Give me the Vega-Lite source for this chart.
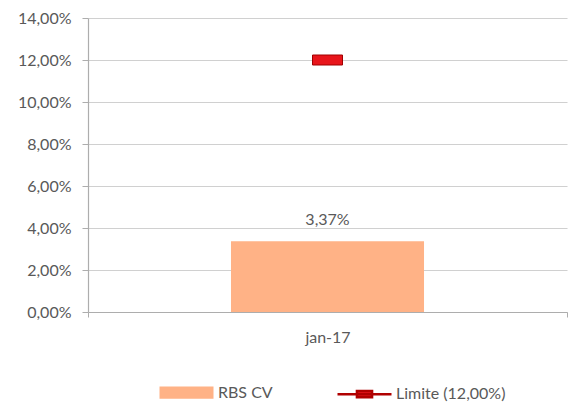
{
  "$schema": "https://vega.github.io/schema/vega-lite/v6.json",
  "width": 479,
  "height": 294,
  "autosize": "none",
  "padding": {"left": 88, "top": 18, "right": 3, "bottom": 91},
  "background": "white",
  "config": {
    "locale": {"number": {"decimal": ",", "thousands": ".", "grouping": [3], "currency": ["R$", ""]}},
    "view": {"stroke": null},
    "font": "Lato"
  },
  "data": {
    "values": [
      {"mes": "jan-17", "serie": "RBS CV", "valor": 0.0337},
      {"mes": "jan-17", "serie": "Limite (12,00%)", "valor": 0.12}
    ]
  },
  "encoding": {
    "x": {
      "field": "mes", "type": "nominal", "title": null,
      "scale": {"paddingInner": 0, "paddingOuter": 0},
      "axis": {"labelAngle": 0, "labelFont": "Lato", "labelFontSize": 16, "labelColor": "#595959",
               "domainColor": "#ADADAD", "domainWidth": 1.2, "tickColor": "#ADADAD", "tickSize": 5, "tickBand": "extent",
               "labelPadding": 12, "grid": false}
    },
    "y": {
      "field": "valor", "type": "quantitative", "title": null,
      "scale": {"domain": [0, 0.14], "nice": false},
      "axis": {"values": [0, 0.02, 0.04, 0.06, 0.08, 0.1, 0.12, 0.14], "format": ".2%",
               "labelFont": "Lato", "labelFontSize": 16, "labelColor": "#595959", "labelPadding": 11,
               "domainColor": "#ADADAD", "domainWidth": 1.2, "tickColor": "#ADADAD", "tickSize": 6,
               "grid": true, "gridColor": "#D0D0D0", "gridWidth": 1.2}
    }
  },
  "layer": [
    {
      "transform": [{"filter": "datum.serie === 'RBS CV'"}],
      "mark": {"type": "bar", "width": {"band": 0.403}},
      "encoding": {
        "color": {
          "field": "serie", "type": "nominal",
          "scale": {"domain": ["RBS CV", "Limite (12,00%)"], "range": ["#FFB286", "#E8151B"]},
          "legend": {
            "orient": "none", "legendX": 70, "legendY": 346, "direction": "horizontal", "title": null,
            "symbolSize": 2916, "labelFont": "Lato", "labelFontSize": 16, "labelColor": "#595959",
            "columnPadding": 59, "labelOffset": 3,
            "encode": {"symbols": {"update": {
              "shape": {"signal": "datum.value === 'RBS CV' ? 'M-1,-0.23H1V0.23H-1Z' : 'M-1,0H1M-0.28,-0.12H0.28V0.12H-0.28Z'"},
              "fill": {"signal": "datum.value === 'RBS CV' ? '#FFB286' : '#E8151B'"},
              "stroke": {"signal": "datum.value === 'RBS CV' ? 'transparent' : '#B00000'"},
              "strokeWidth": {"value": 2.5},
              "size": {"value": 2916},
              "opacity": {"value": 1}
            }}}
          }
        }
      }
    },
    {
      "transform": [{"filter": "datum.serie === 'RBS CV'"}],
      "mark": {"type": "text", "baseline": "alphabetic", "dy": -16, "fontSize": 16, "font": "Lato", "color": "#595959"},
      "encoding": {"text": {"field": "valor", "type": "quantitative", "format": ".2%"}}
    },
    {
      "transform": [{"filter": "datum.serie === 'Limite (12,00%)'"}],
      "mark": {"type": "tick", "orient": "horizontal", "thickness": 10, "size": 30, "stroke": "#A00000", "strokeWidth": 1, "opacity": 1},
      "encoding": {
        "color": {"field": "serie", "type": "nominal"}
      }
    }
  ]
}
